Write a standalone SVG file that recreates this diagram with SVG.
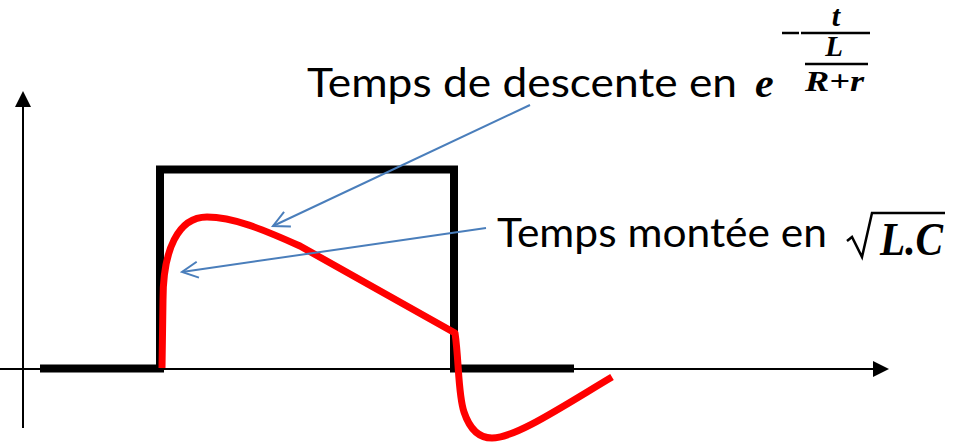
<svg xmlns="http://www.w3.org/2000/svg" width="961" height="444" viewBox="0 0 961 444">
<style>
.axis{stroke:#000;stroke-width:2;fill:none}
.sig{stroke:#000;stroke-width:8;fill:none;stroke-linejoin:miter}
.resp{stroke:#ff0000;stroke-width:7;fill:none;stroke-linejoin:round}
.lead{stroke:#4a7ebb;stroke-width:2;fill:none}
.lbl{font-family:Lato,"Open Sans","Liberation Sans",sans-serif;font-size:40px;fill:#000}
.math{font-family:"Liberation Serif",serif;font-style:italic;fill:#000}
</style>
<defs>
<marker id="open" viewBox="0 0 20 20" refX="18" refY="10" markerWidth="20" markerHeight="20" markerUnits="userSpaceOnUse" orient="auto">
<path d="M2,2 L18,10 L2,18" fill="none" stroke="#4a7ebb" stroke-width="2"/>
</marker>
</defs>
<rect width="961" height="444" fill="#fff"/>
<g id="axes">
<line class="axis" x1="23" y1="106" x2="23" y2="428"/>
<polygon points="23,91 15,107 31,107" fill="#000"/>
<line class="axis" x1="0" y1="369" x2="875" y2="369"/>
<polygon points="889,369 873,361 873,377" fill="#000"/>
</g>
<g id="input-pulse">
<path class="sig" d="M40,368.5 H160 V169.5 H454 V368.5 H574"/>
</g>
<g id="response">
<path class="resp" d="M162,368 L163,300 C163,250 178,217 207,217 C233,217 262,229 300,246 L455,333 C459,360 458,395 464,412 C470,430 480,438 492,438 C515,438 560,408 612,377"/>
</g>
<g id="connectors">
<line class="lead" x1="530" y1="105" x2="273" y2="226" marker-end="url(#open)"/>
<line class="lead" x1="486" y1="228" x2="182" y2="272" marker-end="url(#open)"/>
</g>
<g id="label-descente">
<text class="lbl" x="307" y="97" textLength="430" lengthAdjust="spacingAndGlyphs">Temps de descente en</text>
<text class="math" x="755" y="97" font-size="42" font-weight="600">e</text>
<line x1="782" y1="33" x2="799" y2="33" stroke="#000" stroke-width="2.5"/>
<line x1="801" y1="33" x2="870" y2="33" stroke="#000" stroke-width="2.5"/>
<text class="math" x="836" y="26" font-size="30" font-weight="600" text-anchor="middle">t</text>
<text class="math" x="834" y="56" font-size="29" font-weight="600" text-anchor="middle">L</text>
<line x1="805" y1="64" x2="868" y2="64" stroke="#000" stroke-width="2.5"/>
<text class="math" x="834.5" y="91" font-size="29" font-weight="600" text-anchor="middle" textLength="59" lengthAdjust="spacingAndGlyphs">R+r</text>
</g>
<g id="label-montee">
<text class="lbl" x="497" y="247" textLength="330" lengthAdjust="spacingAndGlyphs">Temps montée en</text>
<path d="M847,241 L852,237 L862,257 L872,213 H945" fill="none" stroke="#000" stroke-width="2.5" stroke-linejoin="miter"/>
<text class="math" x="880" y="255" font-size="46" font-weight="bold" textLength="63" lengthAdjust="spacingAndGlyphs">L.C</text>
</g>
</svg>
